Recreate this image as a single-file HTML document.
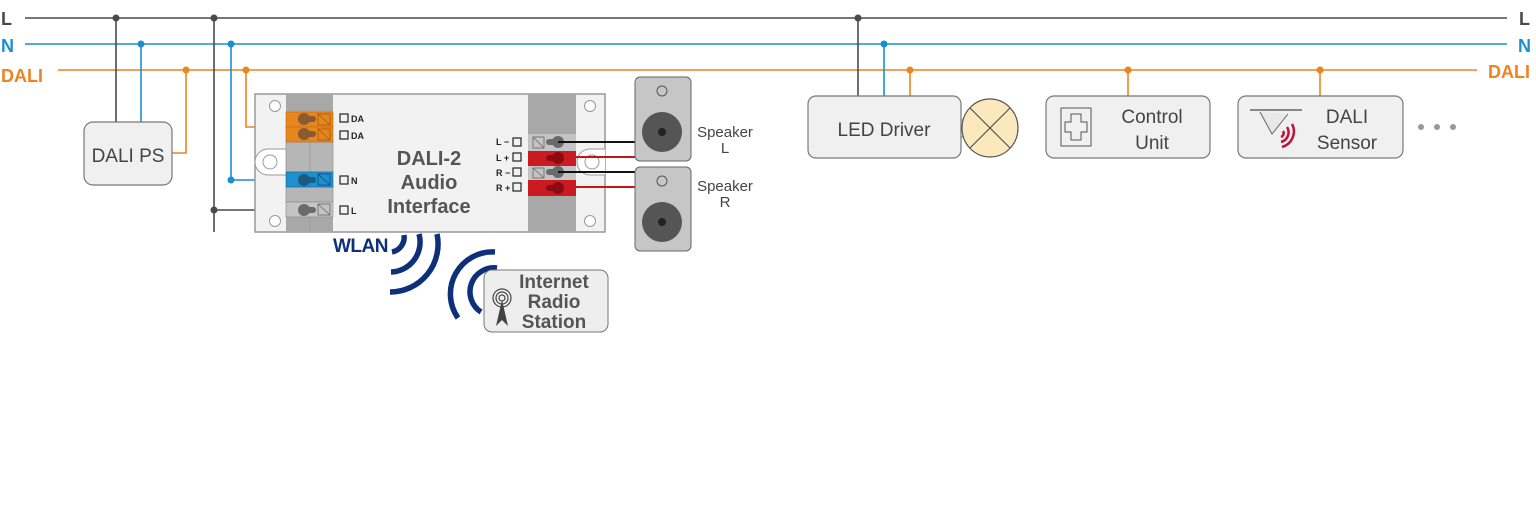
<!DOCTYPE html>
<html><head><meta charset="utf-8"><style>
html,body{margin:0;padding:0;background:#fff;}
svg{display:block;font-family:"Liberation Sans",sans-serif;}
</style></head><body>
<svg width="1536" height="514" viewBox="0 0 1536 514" xmlns="http://www.w3.org/2000/svg">
<g stroke-width="1.6" fill="none">
<line x1="25" y1="18" x2="1507" y2="18" stroke="#4a4a4a"/>
<line x1="25" y1="44" x2="1507" y2="44" stroke="#1a8fd0"/>
<line x1="58" y1="70" x2="1477" y2="70" stroke="#ee8420"/>
<polyline points="116,18 116,122" stroke="#4a4a4a"/>
<polyline points="141,44 141,122" stroke="#1a8fd0"/>
<polyline points="186,70 186,153 172,153" stroke="#ee8420"/>
<polyline points="214,18 214,232" stroke="#4a4a4a"/>
<polyline points="214,210 292,210" stroke="#4a4a4a"/>
<polyline points="231,44 231,180 292,180" stroke="#1a8fd0"/>
<polyline points="246,70 246,127 292,127" stroke="#ee8420"/>
<polyline points="858,18 858,96" stroke="#4a4a4a"/>
<polyline points="884,44 884,96" stroke="#1a8fd0"/>
<polyline points="910,70 910,96" stroke="#ee8420"/>
<polyline points="1128,70 1128,96" stroke="#ee8420"/>
<polyline points="1320,70 1320,96" stroke="#ee8420"/>
</g>
<g>
<circle cx="116" cy="18" r="3.5" fill="#4a4a4a"/><circle cx="214" cy="18" r="3.5" fill="#4a4a4a"/><circle cx="858" cy="18" r="3.5" fill="#4a4a4a"/>
<circle cx="141" cy="44" r="3.5" fill="#1a8fd0"/><circle cx="231" cy="44" r="3.5" fill="#1a8fd0"/><circle cx="884" cy="44" r="3.5" fill="#1a8fd0"/><circle cx="231" cy="180" r="3.5" fill="#1a8fd0"/>
<circle cx="186" cy="70" r="3.5" fill="#ee8420"/><circle cx="246" cy="70" r="3.5" fill="#ee8420"/><circle cx="910" cy="70" r="3.5" fill="#ee8420"/><circle cx="1128" cy="70" r="3.5" fill="#ee8420"/><circle cx="1320" cy="70" r="3.5" fill="#ee8420"/>
<circle cx="214" cy="210" r="3.5" fill="#4a4a4a"/>
</g>
<g font-weight="bold" font-size="18">
<text x="1" y="25" fill="#4a4a4a">L</text>
<text x="1" y="52" fill="#1a8fd0">N</text>
<text x="1" y="82" fill="#ee8420">DALI</text>
<text x="1519" y="25" fill="#4a4a4a">L</text>
<text x="1518" y="52" fill="#1a8fd0">N</text>
<text x="1488" y="78" fill="#ee8420">DALI</text>
</g>
<rect x="84" y="122" width="88" height="63" rx="9" fill="#f0f0f0" stroke="#777" stroke-width="1.2"/>
<text x="128" y="162" font-size="19" fill="#444" text-anchor="middle">DALI PS</text>
<rect x="255" y="94" width="350" height="138" fill="#f2f2f2" stroke="#999" stroke-width="1.5"/>
<rect x="286" y="94" width="47" height="138" fill="#a8a8a8"/>
<rect x="528" y="94" width="48" height="138" fill="#a8a8a8"/>
<circle cx="275" cy="106" r="5.5" fill="#fff" stroke="#999"/><circle cx="275" cy="221" r="5.5" fill="#fff" stroke="#999"/>
<circle cx="590" cy="106" r="5.5" fill="#fff" stroke="#999"/><circle cx="590" cy="221" r="5.5" fill="#fff" stroke="#999"/>
<path d="M286,149 H268 a13,13 0 0 0 0,26 H286" fill="#fff" stroke="#999"/><circle cx="270" cy="162" r="7" fill="#fff" stroke="#999"/>
<path d="M605,149 H590 a13,13 0 0 0 0,26 H605" fill="#fff" stroke="#999"/><circle cx="592" cy="162" r="7" fill="#fff" stroke="#999"/>
<g stroke="#999" stroke-width="0.8">
<rect x="286" y="142" width="47" height="30" fill="#b6b6b6"/>
<line x1="310" y1="142" x2="310" y2="232"/>
<rect x="286" y="187" width="47" height="15" fill="#b6b6b6"/>
</g>
<g>
<rect x="286" y="112" width="47" height="15" fill="#e8861e" stroke="#c06a10" stroke-width="0.6"/>
<rect x="286" y="127" width="47" height="15" fill="#e8861e" stroke="#c06a10" stroke-width="0.6"/>
<rect x="286" y="172" width="47" height="15" fill="#1e8fcf" stroke="#10669a" stroke-width="0.6"/>
<rect x="286" y="202" width="47" height="15" fill="#c4c4c4" stroke="#888" stroke-width="0.6"/>
</g>
<g>
<circle cx="304" cy="119" r="6" fill="#8a5a30"/><rect x="304" y="116" width="12" height="6" rx="3" fill="#8a5a30"/>
<circle cx="304" cy="134" r="6" fill="#8a5a30"/><rect x="304" y="131" width="12" height="6" rx="3" fill="#8a5a30"/>
<circle cx="304" cy="180" r="6" fill="#1a5b82"/><rect x="304" y="177" width="12" height="6" rx="3" fill="#1a5b82"/>
<circle cx="304" cy="210" r="6" fill="#6a6a6a"/><rect x="304" y="207" width="12" height="6" rx="3" fill="#6a6a6a"/>
</g>
<g fill="none" stroke-width="0.8">
<rect x="318" y="114" width="12" height="11" stroke="#a05a10"/><line x1="318" y1="114" x2="330" y2="125" stroke="#a05a10"/>
<rect x="318" y="129" width="12" height="11" stroke="#a05a10"/><line x1="318" y1="129" x2="330" y2="140" stroke="#a05a10"/>
<rect x="318" y="174" width="12" height="11" stroke="#104a70"/><line x1="318" y1="174" x2="330" y2="185" stroke="#104a70"/>
<rect x="318" y="204" width="12" height="11" stroke="#666"/><line x1="318" y1="204" x2="330" y2="215" stroke="#666"/>
</g>
<g font-size="9" font-weight="bold" fill="#222">
<rect x="340" y="114" width="8" height="8" fill="none" stroke="#222" stroke-width="1.2"/><text x="351" y="122">DA</text>
<rect x="340" y="131" width="8" height="8" fill="none" stroke="#222" stroke-width="1.2"/><text x="351" y="139">DA</text>
<rect x="340" y="176" width="8" height="8" fill="none" stroke="#222" stroke-width="1.2"/><text x="351" y="184">N</text>
<rect x="340" y="206" width="8" height="8" fill="none" stroke="#222" stroke-width="1.2"/><text x="351" y="214">L</text>
<text x="496" y="145">L −</text><rect x="513" y="138" width="8" height="8" fill="none" stroke="#222" stroke-width="1.2"/>
<text x="496" y="161">L +</text><rect x="513" y="153" width="8" height="8" fill="none" stroke="#222" stroke-width="1.2"/>
<text x="496" y="176">R −</text><rect x="513" y="168" width="8" height="8" fill="none" stroke="#222" stroke-width="1.2"/>
<text x="496" y="191">R +</text><rect x="513" y="183" width="8" height="8" fill="none" stroke="#222" stroke-width="1.2"/>
</g>
<g font-size="20" font-weight="bold" fill="#555" text-anchor="middle">
<text x="429" y="165">DALI-2</text><text x="429" y="189">Audio</text><text x="429" y="213">Interface</text>
</g>
<rect x="528" y="134" width="48" height="17" fill="#c4c4c4"/>
<rect x="528" y="151" width="48" height="15" fill="#cc1a22"/>
<rect x="528" y="166" width="48" height="14" fill="#c4c4c4"/>
<rect x="528" y="180" width="48" height="16" fill="#cc1a22"/>
<g fill="none" stroke-width="0.8">
<rect x="533" y="137" width="11" height="11" stroke="#666"/><line x1="533" y1="137" x2="544" y2="148" stroke="#666"/>
<rect x="533" y="168" width="11" height="10" stroke="#666"/><line x1="533" y1="168" x2="544" y2="178" stroke="#666"/>
</g>
<circle cx="558" cy="142" r="6" fill="#6a6a6a"/><rect x="546" y="139" width="12" height="6" rx="3" fill="#6a6a6a"/>
<circle cx="558" cy="158" r="6" fill="#8a0c12"/><rect x="546" y="155" width="12" height="6" rx="3" fill="#8a0c12"/>
<circle cx="558" cy="172" r="6" fill="#6a6a6a"/><rect x="546" y="169" width="12" height="6" rx="3" fill="#6a6a6a"/>
<circle cx="558" cy="188" r="6" fill="#8a0c12"/><rect x="546" y="185" width="12" height="6" rx="3" fill="#8a0c12"/>
<g stroke-width="2">
<line x1="558" y1="142" x2="636" y2="142" stroke="#111"/>
<line x1="576" y1="157" x2="636" y2="157" stroke="#c01818"/>
<line x1="558" y1="172" x2="636" y2="172" stroke="#111"/>
<line x1="576" y1="187" x2="636" y2="187" stroke="#c01818"/>
</g>
<g>
<rect x="635" y="77" width="56" height="84" rx="5" fill="#c6c6c6" stroke="#666"/>
<circle cx="662" cy="91" r="5" fill="none" stroke="#555"/>
<circle cx="662" cy="132" r="20" fill="#555"/><circle cx="662" cy="132" r="4" fill="#222"/>
<rect x="635" y="167" width="56" height="84" rx="5" fill="#c6c6c6" stroke="#666"/>
<circle cx="662" cy="181" r="5" fill="none" stroke="#555"/>
<circle cx="662" cy="222" r="20" fill="#555"/><circle cx="662" cy="222" r="4" fill="#222"/>
</g>
<g font-size="15" fill="#444" text-anchor="middle">
<text x="725" y="137">Speaker</text><text x="725" y="153">L</text>
<text x="725" y="191">Speaker</text><text x="725" y="207">R</text>
</g>
<text x="333" y="252" font-size="19" font-weight="bold" fill="#0e2f7a" letter-spacing="-0.5">WLAN</text>
<g fill="none" stroke="#0e2f7a" stroke-width="5.5">
<path d="M404,235 A15,15 0 0 1 392,252"/>
<path d="M419,234 A30,30 0 0 1 391,272"/>
<path d="M437,234 A48,48 0 0 1 390,292"/>
<path d="M493,283 A8,8 0 0 1 500,289"/>
<path d="M497,268 A24,24 0 0 0 481,312"/>
<path d="M495,252 A42,42 0 0 0 458,318"/>
</g>
<rect x="484" y="270" width="124" height="62" rx="8" fill="#eeeeee" stroke="#777"/>
<g fill="none" stroke="#444" stroke-width="1.2">
<circle cx="502" cy="298" r="3"/><circle cx="502" cy="298" r="6"/><circle cx="502" cy="298" r="9"/>
</g>
<path d="M502,300 L496,326 L502,320 L508,326 Z" fill="#444"/>
<g font-size="19" font-weight="bold" fill="#555" text-anchor="middle">
<text x="554" y="288">Internet</text><text x="554" y="308">Radio</text><text x="554" y="328">Station</text>
</g>
<rect x="808" y="96" width="153" height="62" rx="8" fill="#f0f0f0" stroke="#777" stroke-width="1.2"/>
<text x="884" y="136" font-size="19" fill="#444" text-anchor="middle">LED Driver</text>
<rect x="961" y="120" width="5" height="17" fill="#fff" stroke="#777"/>
<ellipse cx="990" cy="128" rx="28" ry="29" fill="#fbe9bd" stroke="#555" stroke-width="1.2"/>
<line x1="970" y1="108" x2="1010" y2="148" stroke="#555" stroke-width="1.2"/>
<line x1="1010" y1="108" x2="970" y2="148" stroke="#555" stroke-width="1.2"/>
<rect x="1046" y="96" width="164" height="62" rx="8" fill="#f0f0f0" stroke="#777" stroke-width="1.2"/>
<rect x="1061" y="108" width="30" height="38" fill="none" stroke="#555"/>
<path d="M1071,114 h10 v8 h6 v10 h-6 v8 h-10 v-8 h-6 v-10 h6 z" fill="none" stroke="#555"/>
<g font-size="19" fill="#444" text-anchor="middle"><text x="1152" y="123">Control</text><text x="1152" y="149">Unit</text></g>
<rect x="1238" y="96" width="165" height="62" rx="8" fill="#f0f0f0" stroke="#777" stroke-width="1.2"/>
<line x1="1250" y1="110" x2="1302" y2="110" stroke="#666" stroke-width="1.5"/>
<path d="M1260,112 L1272,134 L1288,114" fill="#e8e8e8" stroke="#666"/>
<g fill="none" stroke="#c0103e" stroke-width="2.5">
<path d="M1283,131 A4,4 0 0 1 1281,137"/><path d="M1287,127 A10,10 0 0 1 1281,142"/><path d="M1292,124 A16,16 0 0 1 1282,147"/>
</g>
<g font-size="19" fill="#444" text-anchor="middle"><text x="1347" y="123">DALI</text><text x="1347" y="149">Sensor</text></g>
<circle cx="1421" cy="127" r="3" fill="#999"/><circle cx="1437" cy="127" r="3" fill="#999"/><circle cx="1453" cy="127" r="3" fill="#999"/>
</svg>
</body></html>
